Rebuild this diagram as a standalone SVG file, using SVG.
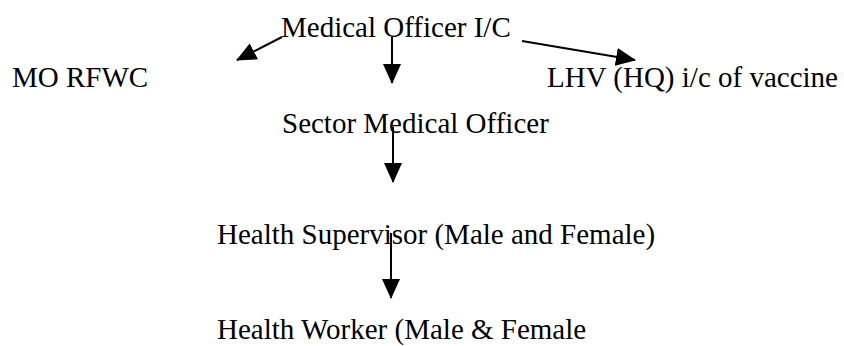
<svg xmlns="http://www.w3.org/2000/svg" width="844" height="346" viewBox="0 0 844 346">
<style>
text{font-family:"Liberation Serif","Times New Roman",serif;font-size:29px;fill:#000}
.c{stroke:#000;stroke-width:2;fill:none;marker-end:url(#ah)}
</style>
<defs>
<marker id="ah" markerUnits="userSpaceOnUse" markerWidth="20" markerHeight="18" refX="19" refY="9" orient="auto">
<path d="M0,0 L20,9 L0,18 z" fill="#000"/>
</marker>
</defs>
<rect width="844" height="346" fill="#fff"/>
<g id="n-mo-ic"><text x="281" y="37">Medical Officer I/C</text></g>
<g id="n-mo-rfwc"><text x="12" y="87">MO RFWC</text></g>
<g id="n-lhv"><text x="547" y="87">LHV (HQ) i/c of vaccine</text></g>
<g id="n-smo"><text x="282" y="133">Sector Medical Officer</text></g>
<g id="n-hs"><text x="217" y="244">Health Supervisor (Male and Female)</text></g>
<g id="n-hw"><text x="217" y="339">Health Worker (Male &amp; Female</text></g>
<g id="connectors">
<line class="c" x1="282" y1="37" x2="237" y2="60"/>
<line class="c" x1="522" y1="41" x2="635" y2="60"/>
<line class="c" x1="392" y1="37" x2="392" y2="83"/>
<line class="c" x1="393" y1="127" x2="393" y2="182"/>
<line class="c" x1="391" y1="233" x2="391" y2="298"/>
</g>
</svg>
